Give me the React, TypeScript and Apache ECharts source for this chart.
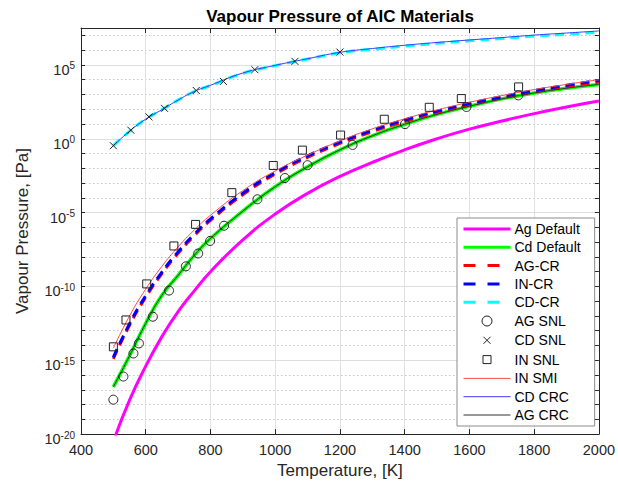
import React, { useEffect, useRef } from "react";
import * as echarts from "echarts";

const curveTemps = [500, 550, 600, 650, 700, 750, 800, 900, 1000, 1100, 1200, 1300, 1400, 1500, 1600, 1700, 1800, 1900, 2000];

// Curves: log10 of vapour pressure in Pa
const agDefault = [-20.5, -17.7, -15.4, -13.4, -11.7, -10.3, -9.0, -6.85, -5.1, -3.7, -2.55, -1.6, -0.75, 0.0, 0.65, 1.2, 1.7, 2.15, 2.55];
const cdDefault = [-16.8, -14.7, -12.5, -10.6, -9.25, -7.9, -6.75, -4.9, -3.25, -1.9, -0.75, 0.2, 0.98, 1.65, 2.2, 2.7, 3.1, 3.42, 3.68];
const agCr = [-14.9, -12.63, -10.73, -9.13, -7.76, -6.57, -5.53, -3.79, -2.4, -1.26, -0.32, 0.48, 1.17, 1.77, 2.29, 2.75, 3.16, 3.52, 3.85];
const inCr = [-14.8, -12.53, -10.63, -9.03, -7.66, -6.47, -5.43, -3.69, -2.3, -1.16, -0.22, 0.58, 1.27, 1.87, 2.39, 2.85, 3.26, 3.62, 3.95];
const cdCr = [-0.47, 0.5, 1.33, 1.97, 2.62, 3.2, 3.6, 4.43, 4.95, 5.4, 5.82, 6.06, 6.27, 6.46, 6.63, 6.79, 6.95, 7.08, 7.22];
const inSmi = [-14.18, -12.0, -10.18, -8.64, -7.32, -6.18, -5.18, -3.51, -2.18, -1.11, -0.15, 0.67, 1.35, 1.95, 2.47, 2.92, 3.33, 3.68, 4.0];
const cdCrc = [-0.47, 0.51, 1.33, 1.97, 2.62, 3.2, 3.62, 4.45, 4.97, 5.42, 5.85, 6.11, 6.33, 6.52, 6.69, 6.85, 7.02, 7.16, 7.3];
const agCrc = [-16.8, -14.7, -12.5, -10.6, -9.25, -7.9, -6.75, -4.9, -3.25, -1.9, -0.75, 0.2, 0.98, 1.65, 2.2, 2.7, 3.1, 3.42, 3.68];

// Markers (SNL data): temperature [K] and log10 pressure [Pa]
const agSnlT = [500, 531, 562, 579, 622, 672, 724, 762, 799, 842, 945, 1030, 1100, 1239, 1401, 1591, 1751];
const agSnlP = [-17.67, -16.1, -14.54, -13.86, -12.05, -10.28, -8.64, -7.77, -6.92, -5.89, -4.1, -2.66, -1.79, -0.42, 0.99, 2.15, 2.94];
const cdSnlT = [500, 554, 610, 658, 756, 840, 937, 1061, 1200];
const cdSnlP = [-0.47, 0.58, 1.48, 2.06, 3.27, 3.88, 4.68, 5.24, 5.87];
const inSnlT = [500, 539, 603, 687, 754, 866, 994, 1084, 1202, 1337, 1476, 1575, 1752];
const inSnlP = [-14.09, -12.27, -9.83, -7.26, -5.8, -3.65, -1.81, -0.77, 0.25, 1.32, 2.13, 2.72, 3.51];

// Axis ranges / ticks
const xMin = 400;
const xMax = 2000;
const xStep = 200;
const yMinExp = -20;
const yMaxExp = 7.5;
const yLabelStep = 5;

const FONT = "'Liberation Sans', Arial, Helvetica, sans-serif";
const AX = "#262626";

// Legend marker icons (14x14 box so the mark keeps a small size)
const BOX = "M0,0L0.01,0M14,14L13.99,14";
const ICON_CIRCLE = `path://${BOX}M12,7A5,5,0,1,1,2,7A5,5,0,1,1,12,7Z`;
const ICON_CROSS = `path://${BOX}M3.5,3.5L10.5,10.5M10.5,3.5L3.5,10.5`;
const ICON_SQUARE = `path://${BOX}M3,3L11,3L11,11L3,11Z`;

const pairs = (xs: number[], ys: number[]) => xs.map((x, i) => [x, ys[i]]);

export default function App() {
  const ref = useRef<HTMLDivElement>(null);

  useEffect(() => {
    document.body.style.margin = "0";
    if (!ref.current) return;
    const chart = echarts.init(ref.current, undefined, { renderer: "svg" });

    const lineSeries = (name: string, ys: number[], color: string, width: number, dash?: number[]) => ({
      name,
      type: "line",
      data: pairs(curveTemps, ys),
      symbol: "none",
      smooth: 0.5,
      color,
      lineStyle: { color, width, type: dash ? dash : "solid" },
      emphasis: { disabled: true },
    });

    const markerSeries = (name: string, xs: number[], ys: number[], symbol: string, size: number) => ({
      name,
      type: "line",
      data: pairs(xs, ys),
      symbol,
      symbolSize: size,
      showSymbol: true,
      color: AX,
      lineStyle: { width: 0, opacity: 0 },
      itemStyle: { color: "rgba(0,0,0,0)", borderColor: "#222", borderWidth: 1 },
      emphasis: { disabled: true },
    });

    const dashThick = [9, 6];

    const lineLegend = (name: string, width: number, dashed: boolean) => ({
      name,
      itemStyle: { opacity: 0 },
      lineStyle: { width, type: dashed ? [12, 12] : "solid" },
    });
    const markLegend = (name: string, icon: string) => ({
      name,
      icon,
      itemStyle: { color: "rgba(0,0,0,0)", borderColor: "#222", borderWidth: 1 },
      lineStyle: { width: 0, opacity: 0 },
    });

    const option: any = {
      animation: false,
      backgroundColor: "#fff",
      title: {
        text: "Vapour Pressure of AIC Materials",
        left: 340,
        top: 8,
        textAlign: "center",
        padding: 0,
        textStyle: { fontSize: 17, fontWeight: "bold", color: "#000", fontFamily: FONT },
      },
      grid: { left: 81, right: 19, top: 28, bottom: 47, containLabel: false },
      legend: {
        orient: "vertical",
        left: 457,
        top: 218,
        itemWidth: 47,
        itemHeight: 14,
        itemGap: 4.3,
        padding: [4, 14, 4, 5],
        backgroundColor: "#fff",
        borderColor: "#8c8c8c",
        borderWidth: 1,
        borderRadius: 0,
        selectedMode: false,
        textStyle: { fontSize: 14, color: "#000", fontFamily: FONT, padding: [0, 0, 0, -1] },
        data: [
          lineLegend("Ag Default", 3, false),
          lineLegend("Cd Default", 3, false),
          lineLegend("AG-CR", 3, true),
          lineLegend("IN-CR", 3, true),
          lineLegend("CD-CR", 3, true),
          markLegend("AG SNL", ICON_CIRCLE),
          markLegend("CD SNL", ICON_CROSS),
          markLegend("IN SNL", ICON_SQUARE),
          lineLegend("IN SMI", 1, false),
          lineLegend("CD CRC", 1, false),
          lineLegend("AG CRC", 1, false),
        ],
      },
      xAxis: [
        {
          type: "value",
          min: xMin,
          max: xMax,
          interval: xStep,
          position: "bottom",
          name: "Temperature, [K]",
          nameLocation: "middle",
          nameGap: 19,
          nameTextStyle: { fontSize: 17, color: AX, fontFamily: FONT },
          axisLine: { show: true, onZero: false, lineStyle: { color: AX, width: 1 } },
          axisTick: { show: true, inside: true, length: 5, lineStyle: { color: AX } },
          axisLabel: { fontSize: 14.5, color: AX, fontFamily: FONT, margin: 8, formatter: (v: number) => String(v) },
          splitLine: { show: true, lineStyle: { color: "#e1e1e1", width: 1, type: "solid" } },
        },
        {
          type: "value",
          min: xMin,
          max: xMax,
          interval: xStep,
          position: "top",
          axisLine: { show: true, onZero: false, lineStyle: { color: AX, width: 1 } },
          axisTick: { show: true, inside: true, length: 5, lineStyle: { color: AX } },
          axisLabel: { show: false },
          splitLine: { show: false },
        },
      ],
      yAxis: [
        {
          type: "value",
          min: yMinExp,
          max: yMaxExp,
          interval: 1,
          position: "left",
          name: "Vapour Pressure, [Pa]",
          nameLocation: "middle",
          nameGap: 50,
          nameTextStyle: { fontSize: 17, color: AX, fontFamily: FONT },
          axisLine: { show: true, onZero: false, lineStyle: { color: AX, width: 1 } },
          axisTick: { show: true, inside: true, length: 4, lineStyle: { color: AX } },
          axisLabel: {
            margin: 6,
            color: AX,
            fontFamily: FONT,
            formatter: (v: number) => {
              if (Math.abs(v % yLabelStep) > 1e-9 || v > 5.0001) return "";
              return `{b|10}{s|${v}}`;
            },
            rich: {
              b: { fontSize: 14.5, lineHeight: 16, padding: [10, 0, 0, 0], color: AX, fontFamily: FONT },
              s: { fontSize: 10, lineHeight: 12, padding: [4, 0, 0, 0], verticalAlign: "top", color: AX, fontFamily: FONT },
            },
          },
          splitLine: { show: true, lineStyle: { color: "#c4c4c4", width: 1, type: [1.5, 2.5] } },
        },
        {
          type: "value",
          min: yMinExp,
          max: yMaxExp,
          interval: 1,
          position: "right",
          axisLine: { show: true, onZero: false, lineStyle: { color: AX, width: 1 } },
          axisTick: { show: true, inside: true, length: 4, lineStyle: { color: AX } },
          axisLabel: { show: false },
          splitLine: { show: false },
        },
        {
          type: "value",
          min: yMinExp,
          max: yMaxExp,
          interval: yLabelStep,
          position: "left",
          axisLine: { show: false },
          axisTick: { show: false },
          axisLabel: { show: false },
          splitLine: { show: true, lineStyle: { color: "#dedede", width: 1, type: "solid" } },
        },
      ],
      series: [
        lineSeries("Ag Default", agDefault, "#ff00ff", 3),
        lineSeries("Cd Default", cdDefault, "#00ff00", 3.5),
        lineSeries("AG-CR", agCr, "#ff0000", 3, dashThick),
        lineSeries("IN-CR", inCr, "#0000ff", 3, dashThick),
        lineSeries("CD-CR", cdCr, "#00ffff", 3, dashThick),
        markerSeries("AG SNL", agSnlT, agSnlP, "circle", 9),
        markerSeries("CD SNL", cdSnlT, cdSnlP, "path://M0,0L10,10M10,0L0,10", 7),
        markerSeries("IN SNL", inSnlT, inSnlP, "rect", 8),
        lineSeries("IN SMI", inSmi, "#ff4a4a", 1),
        lineSeries("CD CRC", cdCrc, "#3b3bff", 1),
        lineSeries("AG CRC", agCrc, "#333333", 1),
      ],
    };

    chart.setOption(option);
    return () => chart.dispose();
  }, []);

  return <div ref={ref} style={{ width: 618, height: 484 }} />;
}
